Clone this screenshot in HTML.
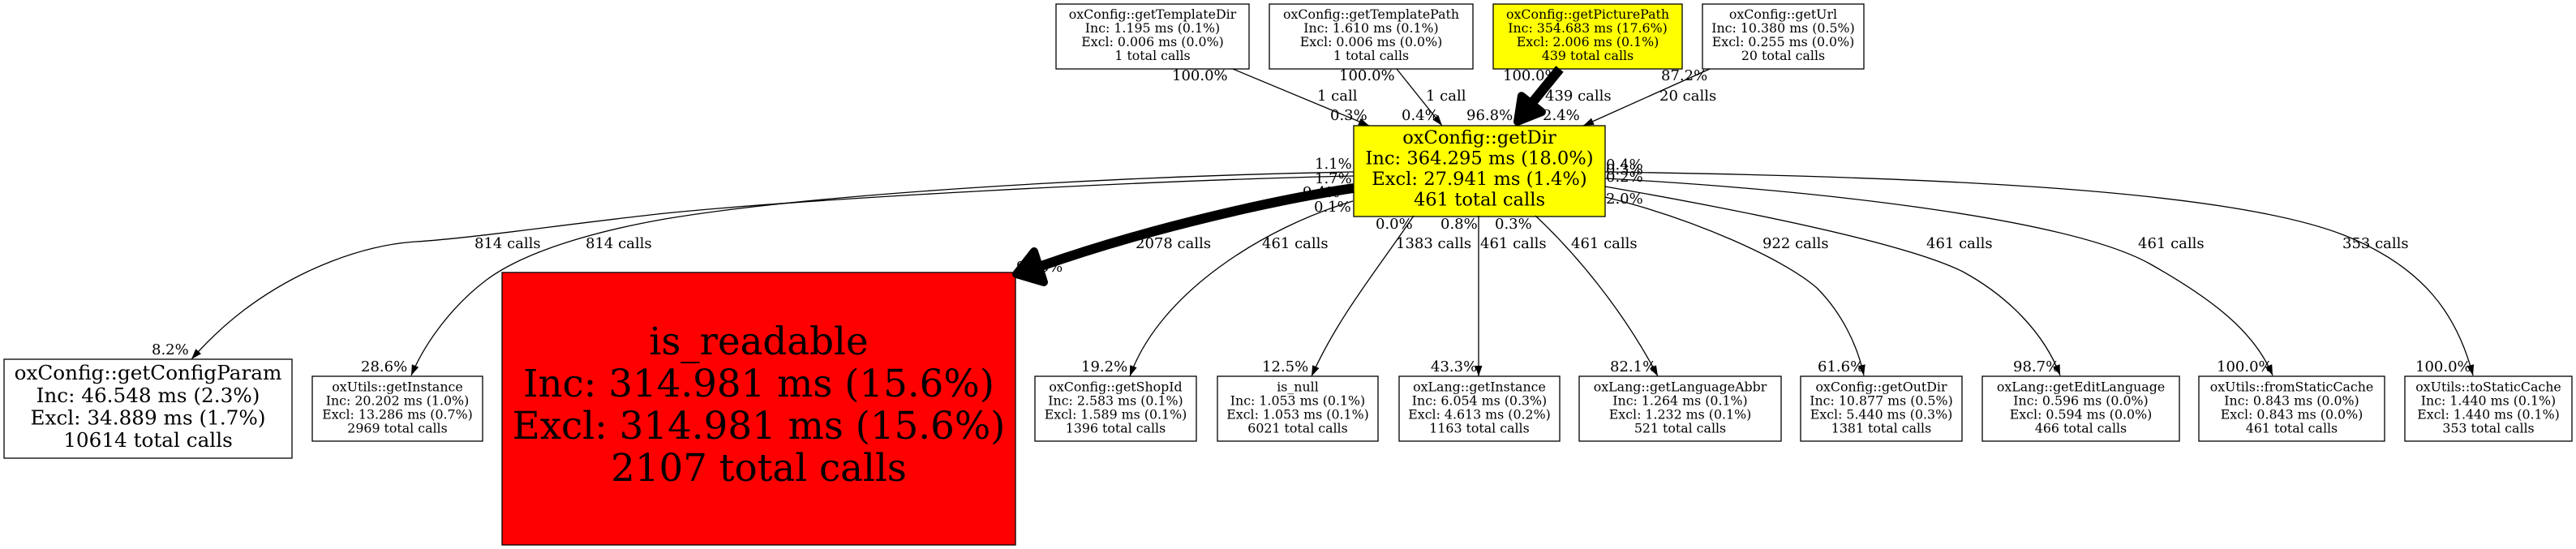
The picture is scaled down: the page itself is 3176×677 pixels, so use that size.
<!DOCTYPE html>
<html>
<head>
<meta charset="utf-8">
<style>
  html, body { margin: 0; padding: 0; background: #ffffff; }
  svg { display: block; }
  text { font-family: "DejaVu Serif", "Liberation Serif", serif; fill: #000; }
  .s { font-size: 15.8px; text-anchor: middle; }
  .e { font-size: 18px; }
  .m { font-size: 22.6px; text-anchor: middle; }
  .g { font-size: 24.7px; text-anchor: middle; }
  .b { font-size: 46.7px; text-anchor: middle; }
  .n { stroke: #000; stroke-width: 1.3; }
  .ed { fill: none; stroke: #000; stroke-width: 1.3; marker-end: url(#a); }
</style>
</head>
<body>
<svg width="3176" height="677" viewBox="0 0 3176 677" xmlns="http://www.w3.org/2000/svg">
  <defs>
    <marker id="a" markerWidth="14" markerHeight="10" refX="13" refY="4.5" orient="auto" markerUnits="userSpaceOnUse" overflow="visible">
      <path d="M0,0 L13,4.5 L0,9 z" fill="#000"/>
    </marker>
  </defs>
  <rect x="0" y="0" width="3176" height="677" fill="#fff"/>

  <!-- Nodes -->
  <rect class="n" x="1302" y="5" width="238" height="80" fill="#fff"/>
  <text class="s" x="1421" y="23">oxConfig::getTemplateDir</text>
  <text class="s" x="1421" y="40">Inc: 1.195 ms (0.1%)</text>
  <text class="s" x="1421" y="57">Excl: 0.006 ms (0.0%)</text>
  <text class="s" x="1421" y="74">1 total calls</text>

  <rect class="n" x="1565" y="5" width="251" height="80" fill="#fff"/>
  <text class="s" x="1690.5" y="23">oxConfig::getTemplatePath</text>
  <text class="s" x="1690.5" y="40">Inc: 1.610 ms (0.1%)</text>
  <text class="s" x="1690.5" y="57">Excl: 0.006 ms (0.0%)</text>
  <text class="s" x="1690.5" y="74">1 total calls</text>

  <rect class="n" x="1841" y="5" width="233" height="80" fill="#ffff00"/>
  <text class="s" x="1957.5" y="23">oxConfig::getPicturePath</text>
  <text class="s" x="1957.5" y="40">Inc: 354.683 ms (17.6%)</text>
  <text class="s" x="1957.5" y="57">Excl: 2.006 ms (0.1%)</text>
  <text class="s" x="1957.5" y="74">439 total calls</text>

  <rect class="n" x="2099" y="5" width="199" height="80" fill="#fff"/>
  <text class="s" x="2198.5" y="23">oxConfig::getUrl</text>
  <text class="s" x="2198.5" y="40">Inc: 10.380 ms (0.5%)</text>
  <text class="s" x="2198.5" y="57">Excl: 0.255 ms (0.0%)</text>
  <text class="s" x="2198.5" y="74">20 total calls</text>

  <rect class="n" x="1669" y="155" width="310" height="112" fill="#ffff00"/>
  <text class="m" x="1824" y="177">oxConfig::getDir</text>
  <text class="m" x="1824" y="202.5">Inc: 364.295 ms (18.0%)</text>
  <text class="m" x="1824" y="228">Excl: 27.941 ms (1.4%)</text>
  <text class="m" x="1824" y="253.5">461 total calls</text>

  <rect class="n" x="5" y="443" width="355" height="122" fill="#fff"/>
  <text class="g" x="182.5" y="468">oxConfig::getConfigParam</text>
  <text class="g" x="182.5" y="496">Inc: 46.548 ms (2.3%)</text>
  <text class="g" x="182.5" y="523.5">Excl: 34.889 ms (1.7%)</text>
  <text class="g" x="182.5" y="551">10614 total calls</text>

  <rect class="n" x="385" y="464" width="210" height="80" fill="#fff"/>
  <text class="s" x="490" y="482.5">oxUtils::getInstance</text>
  <text class="s" x="490" y="499.5">Inc: 20.202 ms (1.0%)</text>
  <text class="s" x="490" y="516.5">Excl: 13.286 ms (0.7%)</text>
  <text class="s" x="490" y="533.5">2969 total calls</text>

  <rect class="n" x="619" y="336" width="633" height="336" fill="#ff0000"/>
  <text class="b" x="935.5" y="437">is_readable</text>
  <text class="b" x="935.5" y="489">Inc: 314.981 ms (15.6%)</text>
  <text class="b" x="935.5" y="541">Excl: 314.981 ms (15.6%)</text>
  <text class="b" x="935.5" y="593">2107 total calls</text>

  <rect class="n" x="1276" y="464" width="199" height="80" fill="#fff"/>
  <text class="s" x="1375.5" y="482.5">oxConfig::getShopId</text>
  <text class="s" x="1375.5" y="499.5">Inc: 2.583 ms (0.1%)</text>
  <text class="s" x="1375.5" y="516.5">Excl: 1.589 ms (0.1%)</text>
  <text class="s" x="1375.5" y="533.5">1396 total calls</text>

  <rect class="n" x="1501" y="464" width="198" height="80" fill="#fff"/>
  <text class="s" x="1600" y="482.5">is_null</text>
  <text class="s" x="1600" y="499.5">Inc: 1.053 ms (0.1%)</text>
  <text class="s" x="1600" y="516.5">Excl: 1.053 ms (0.1%)</text>
  <text class="s" x="1600" y="533.5">6021 total calls</text>

  <rect class="n" x="1725" y="464" width="198" height="80" fill="#fff"/>
  <text class="s" x="1824" y="482.5">oxLang::getInstance</text>
  <text class="s" x="1824" y="499.5">Inc: 6.054 ms (0.3%)</text>
  <text class="s" x="1824" y="516.5">Excl: 4.613 ms (0.2%)</text>
  <text class="s" x="1824" y="533.5">1163 total calls</text>

  <rect class="n" x="1947" y="464" width="249" height="80" fill="#fff"/>
  <text class="s" x="2071.5" y="482.5">oxLang::getLanguageAbbr</text>
  <text class="s" x="2071.5" y="499.5">Inc: 1.264 ms (0.1%)</text>
  <text class="s" x="2071.5" y="516.5">Excl: 1.232 ms (0.1%)</text>
  <text class="s" x="2071.5" y="533.5">521 total calls</text>

  <rect class="n" x="2220" y="464" width="199" height="80" fill="#fff"/>
  <text class="s" x="2319.5" y="482.5">oxConfig::getOutDir</text>
  <text class="s" x="2319.5" y="499.5">Inc: 10.877 ms (0.5%)</text>
  <text class="s" x="2319.5" y="516.5">Excl: 5.440 ms (0.3%)</text>
  <text class="s" x="2319.5" y="533.5">1381 total calls</text>

  <rect class="n" x="2444" y="464" width="243" height="80" fill="#fff"/>
  <text class="s" x="2565.5" y="482.5">oxLang::getEditLanguage</text>
  <text class="s" x="2565.5" y="499.5">Inc: 0.596 ms (0.0%)</text>
  <text class="s" x="2565.5" y="516.5">Excl: 0.594 ms (0.0%)</text>
  <text class="s" x="2565.5" y="533.5">466 total calls</text>

  <rect class="n" x="2711" y="464" width="229" height="80" fill="#fff"/>
  <text class="s" x="2825.5" y="482.5">oxUtils::fromStaticCache</text>
  <text class="s" x="2825.5" y="499.5">Inc: 0.843 ms (0.0%)</text>
  <text class="s" x="2825.5" y="516.5">Excl: 0.843 ms (0.0%)</text>
  <text class="s" x="2825.5" y="533.5">461 total calls</text>

  <rect class="n" x="2965" y="464" width="206" height="80" fill="#fff"/>
  <text class="s" x="3068" y="482.5">oxUtils::toStaticCache</text>
  <text class="s" x="3068" y="499.5">Inc: 1.440 ms (0.1%)</text>
  <text class="s" x="3068" y="516.5">Excl: 1.440 ms (0.1%)</text>
  <text class="s" x="3068" y="533.5">353 total calls</text>

  <!-- Thin edges -->
  <path class="ed" d="M1520,85 L1688,155"/>
  <path class="ed" d="M1722,85 L1778,155"/>
  <path class="ed" d="M2108,85 L1952,155"/>
  <path class="ed" d="M1669,217 C1400,223 1000,245 820,263 C700,276 580,294 513,298 C450,302 370,330 300,383 C275,402 252,425 236,443"/>
  <path class="ed" d="M1669,212 C1350,218 1000,240 820,270 C740,284 650,308 600,345 C560,375 525,420 507,463"/>
  <path class="ed" d="M1668,248 C1560,280 1430,360 1393,464"/>
  <path class="ed" d="M1743,266 C1700,330 1650,390 1617,464"/>
  <path class="ed" d="M1823,266 L1823,464"/>
  <path class="ed" d="M1893,266 C1940,310 2000,380 2044,464"/>
  <path class="ed" d="M1979,243 C2090,270 2200,320 2240,355 C2270,385 2290,425 2298,463"/>
  <path class="ed" d="M1979,230 C2150,260 2350,300 2420,335 C2475,365 2520,410 2540,463"/>
  <path class="ed" d="M1979,220 C2250,235 2550,270 2650,325 C2730,370 2780,410 2802,463"/>
  <path class="ed" d="M1979,212 C2400,218 2750,235 2890,290 C2990,330 3030,390 3049,463"/>

  <!-- Edge labels -->
  <text class="e" x="1445" y="99">100.0%</text>
  <text class="e" x="1624" y="124">1 call</text>
  <text class="e" x="1640" y="148">0.3%</text>
  <text class="e" x="1651" y="99">100.0%</text>
  <text class="e" x="1758" y="124">1 call</text>
  <text class="e" x="1728" y="148">0.4%</text>
  <text class="e" x="1853" y="99">100.0%</text>
  <text class="e" x="1905" y="124">439 calls</text>
  <text class="e" x="1808" y="148">96.8%</text>
  <text class="e" x="1902" y="148">2.4%</text>
  <text class="e" x="2048" y="99">87.2%</text>
  <text class="e" x="2046" y="124">20 calls</text>

  <text class="e" x="1621" y="208">1.1%</text>
  <text class="e" x="1621" y="226">1.7%</text>
  <text class="e" x="1606" y="243">9.4%</text>
  <text class="e" x="1620" y="261">0.1%</text>

  <text class="e" x="1980" y="209">0.4%</text>
  <text class="e" x="1980" y="215">0.3%</text>
  <text class="e" x="1980" y="224">0.2%</text>
  <text class="e" x="1980" y="251">2.0%</text>

  <text class="e" x="1696" y="282">0.0%</text>
  <text class="e" x="1776" y="282">0.8%</text>
  <text class="e" x="1843" y="282">0.3%</text>

  <text class="e" x="585" y="306">814 calls</text>
  <text class="e" x="722" y="306">814 calls</text>
  <text class="e" x="1400" y="306">2078 calls</text>
  <text class="e" x="1556" y="306">461 calls</text>
  <text class="e" x="1721" y="306">1383 calls</text>
  <text class="e" x="1825" y="306">461 calls</text>
  <text class="e" x="1937" y="306">461 calls</text>
  <text class="e" x="2173" y="306">922 calls</text>
  <text class="e" x="2375" y="306">461 calls</text>
  <text class="e" x="2636" y="306">461 calls</text>
  <text class="e" x="2888" y="306">353 calls</text>

  <text class="e" x="187" y="437">8.2%</text>
  <text class="e" x="445" y="458">28.6%</text>
  <text class="e" x="1253" y="335">98.6%</text>
  <text class="e" x="1333" y="458">19.2%</text>
  <text class="e" x="1556" y="458">12.5%</text>
  <text class="e" x="1764" y="458">43.3%</text>
  <text class="e" x="1985" y="458">82.1%</text>
  <text class="e" x="2241" y="458">61.6%</text>
  <text class="e" x="2482" y="458">98.7%</text>
  <text class="e" x="2733" y="458">100.0%</text>
  <text class="e" x="2978" y="458">100.0%</text>

  <!-- Thick edges -->
  <path d="M1923,85 L1888,128" fill="none" stroke="#000" stroke-width="12"/>
  <polygon points="1871,150 1875.9,118.3 1900.9,138.1" fill="#000" stroke="#000" stroke-width="10" stroke-linejoin="round"/>

  <path d="M1669,232 C1580,245 1420,280 1281,329" fill="none" stroke="#000" stroke-width="12"/>
  <polygon points="1253,338 1275,310 1287,348" fill="#000" stroke="#000" stroke-width="10" stroke-linejoin="round"/>
</svg>
</body>
</html>
